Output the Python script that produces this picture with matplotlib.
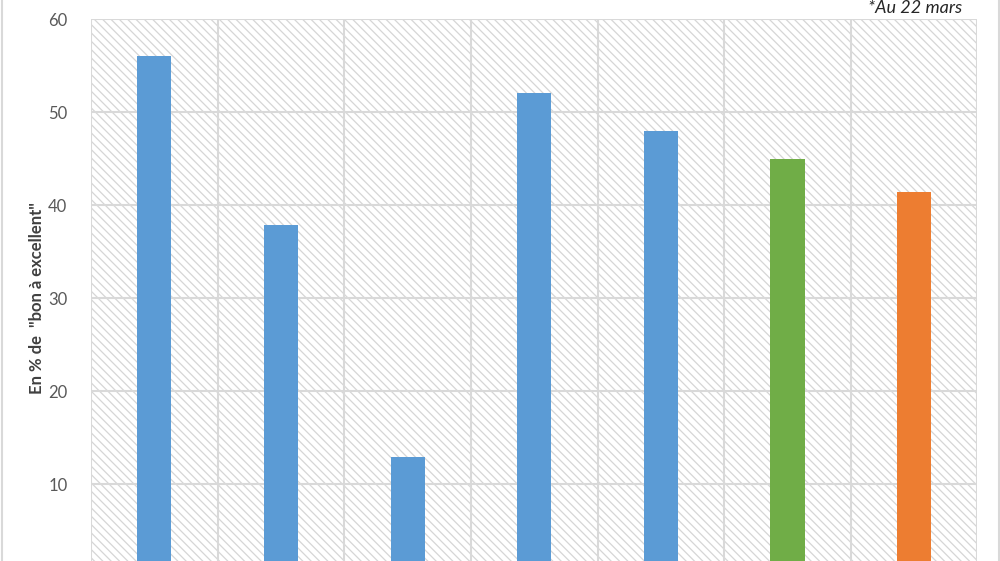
import matplotlib
matplotlib.use("Agg")
from matplotlib import pyplot as plt
from matplotlib import patches
from matplotlib.lines import Line2D
import numpy as np

# values (category labels are cropped out of the picture)
categories = ["1", "2", "3", "4", "5", "6", "7"]
values = [56, 37.9, 12.9, 52, 48, 45, 41.4]
bar_colors = ["#5B9BD5", "#5B9BD5", "#5B9BD5", "#5B9BD5", "#5B9BD5", "#70AD47", "#ED7D31"]
yticks = [10, 20, 30, 40, 50, 60]

plt.rcParams['font.family'] = ['Lato', 'DejaVu Sans']
plt.rcParams['hatch.linewidth'] = 0.9

fig = plt.figure(figsize=(10, 5.61), dpi=100)
# plot area runs below the bottom edge: the reference is cropped
ax = fig.add_axes([0.091, -0.029, 0.8865, 0.9951])

x = np.arange(len(categories))
ax.set_xlim(-0.5, len(categories) - 0.5)
ax.set_ylim(0, 60)

# hatched background of the plot area
bg = patches.Rectangle((0, 0), 1, 1, transform=ax.transAxes, facecolor="white",
                       edgecolor="#d6d6d6", linewidth=0, hatch="\\\\\\\\", zorder=0)
ax.add_patch(bg)

ax.bar(x, values, width=0.27, color=bar_colors, zorder=3)

# gridlines
for yv in yticks:
    ax.axhline(yv, color="#d9d9d9", linewidth=1.5, zorder=1)
for xv in np.arange(-0.5, len(categories), 1.0):
    ax.axvline(xv, color="#d9d9d9", linewidth=1.5, zorder=1)

for s in ax.spines.values():
    s.set_visible(False)

ax.set_xticks([])
ax.set_yticks(yticks)
ax.set_yticklabels([str(t) for t in yticks], fontsize=12, color="#595959")
ax.tick_params(axis="y", length=0, pad=17)

ax.set_ylabel('En % de  "bon à excellent"', fontsize=12, fontweight="bold", color="#404040")
ax.yaxis.set_label_coords((45 - 91) / 886.5, 0.5)

fig.text(0.962, 0.986, "*Au 22 mars", ha="right", va="center", fontsize=13,
         style="italic", color="#262626")

# outer chart border
fig.add_artist(Line2D([0.0015, 0.0015], [0, 1], color="#d9d9d9", linewidth=1.5))
fig.add_artist(Line2D([0.9985, 0.9985], [0, 1], color="#d9d9d9", linewidth=1.5))

plt.savefig("out.png", dpi=100)
